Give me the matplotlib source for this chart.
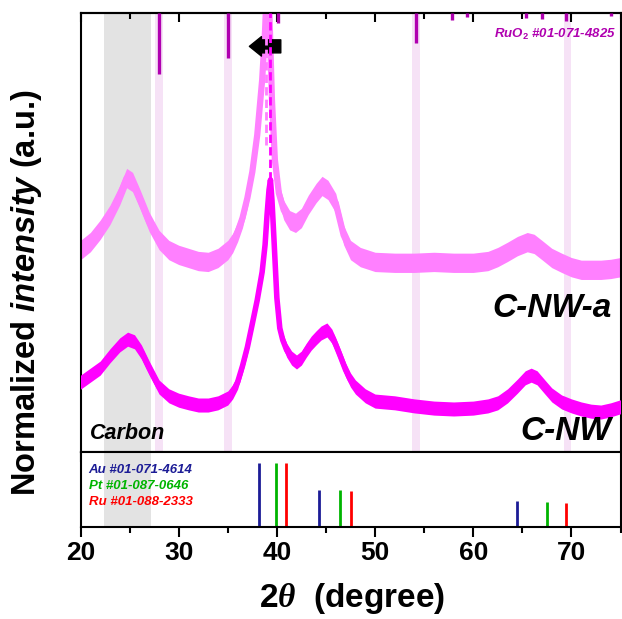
import matplotlib
matplotlib.use("Agg")
import matplotlib.pyplot as plt
from matplotlib.ticker import MultipleLocator

plt.rcParams['font.family'] = ['Liberation Sans', 'DejaVu Sans']
plt.rcParams['font.weight'] = 'bold'
plt.rcParams['mathtext.fontset'] = 'custom'
plt.rcParams['mathtext.rm'] = 'Liberation Sans:bold'
plt.rcParams['mathtext.bf'] = 'Liberation Sans:bold'
plt.rcParams['mathtext.it'] = 'Liberation Sans:italic:bold'
plt.rcParams['mathtext.cal'] = 'Liberation Serif:italic'

# XRD patterns (normalized intensity)
tt_cnw = [20.0, 21.0, 22.0, 23.0, 24.0, 24.8, 25.5, 26.2, 27.0, 28.0, 29.0, 30.0,
          31.0, 32.0, 33.0, 34.0, 35.0, 35.5, 36.0, 36.5, 37.0, 37.5, 38.0, 38.5,
          38.8, 39.0, 39.2, 39.35, 39.5, 39.7, 40.0, 40.3, 40.6, 41.0, 41.5, 42.0,
          42.5, 43.0, 43.5, 44.0, 44.5, 45.1, 45.6, 46.0, 46.5, 47.0, 47.5, 48.0,
          49.0, 50.0, 52.0, 54.0, 56.0, 58.0, 60.0, 61.5, 62.5, 63.5, 64.5, 65.3,
          65.9, 66.5, 67.3, 68.0, 69.0, 70.0, 71.0, 72.0, 73.0, 74.0, 75.0]
int_cnw = [15.9, 17.5, 19.1, 21.9, 24.4, 25.7, 25.1, 22.8, 19.1, 14.8, 12.8, 11.8,
           11.2, 10.7, 10.7, 11.2, 12.3, 13.7, 15.9, 19.6, 23.9, 29.2, 34.6, 41.0,
           47.2, 54.0, 59.7, 62.0, 57.4, 48.7, 35.1, 28.2, 25.5, 23.2, 21.4, 20.5,
           21.4, 23.2, 24.8, 26.0, 27.1, 27.8, 26.4, 24.4, 21.6, 18.7, 16.4, 14.8,
           12.8, 11.6, 11.2, 10.5, 10.0, 9.8, 10.0, 10.5, 11.2, 12.8, 15.0, 16.9,
           17.5, 16.9, 14.8, 13.0, 11.4, 10.5, 9.8, 9.3, 9.1, 9.6, 10.3]

tt_cnwa = [20.0, 21.0, 22.0, 23.0, 24.0, 24.7, 25.3, 26.0, 27.0, 28.0, 29.0, 30.0,
           31.0, 32.0, 33.0, 34.0, 35.0, 35.5, 36.0, 36.5, 37.0, 37.5, 38.0, 38.5,
           38.8, 39.0, 39.2, 39.5, 39.8, 40.2, 40.7, 41.3, 41.9, 42.5, 43.2, 44.0,
           44.6, 45.2, 46.0, 46.8, 47.5, 48.5, 50.0, 52.0, 54.0, 56.0, 58.0, 60.0,
           61.5, 62.5, 63.5, 64.5, 65.5, 66.2, 67.0, 68.0, 69.0, 70.0, 71.0, 72.0,
           73.0, 74.0, 75.0]
int_cnwa = [46.0, 47.8, 50.6, 54.0, 58.5, 62.4, 61.5, 57.9, 52.4, 48.3, 46.0, 44.9,
            44.2, 43.5, 43.3, 44.2, 46.0, 47.6, 50.1, 53.3, 57.9, 63.8, 72.2, 84.7,
            96.1, 107.5, 103.0, 80.2, 66.5, 59.0, 55.1, 52.8, 52.2, 53.3, 56.3, 59.0,
            60.6, 59.7, 56.7, 49.4, 46.0, 44.4, 43.3, 43.1, 43.1, 43.3, 43.1, 43.1,
            43.5, 44.4, 45.6, 46.9, 47.8, 47.4, 46.0, 44.2, 43.1, 42.1, 41.5, 41.5,
            41.5, 41.7, 42.1]

# reference patterns
ruo2_pos = [28.0, 35.0, 40.1, 54.2, 57.8, 59.4, 65.4, 67.0, 69.4, 74.0]
ruo2_int = [100, 74, 16, 49, 11, 7, 8, 10, 13, 5]
ruo2_bands = [28.0, 35.0, 54.2, 69.6]

au_pos = [38.2, 44.3, 64.5]
au_int = [100, 57, 40]
pt_pos = [39.9, 46.4, 67.5]
pt_int = [100, 57, 39]
ru_pos = [40.9, 47.5, 69.4]
ru_int = [100, 56, 38]

carbon_band = (22.36, 27.16)
shift_from, shift_to = 40.4, 37.2
peak_cnw, peak_cnwa = 39.35, 38.9

fig = plt.figure(figsize=(6.22, 6.19), dpi=100)
ax1 = fig.add_axes([80.5 / 622, 1 - 452 / 619, 540 / 622, 439 / 619])
ax2 = fig.add_axes([80.5 / 622, 1 - 527 / 619, 540 / 622, 75 / 619])

for ax in (ax1, ax2):
    ax.axvspan(*carbon_band, color='#e3e3e3', lw=0, zorder=0)
    ax.set_xlim(20, 75)
    ax.set_yticks([])
    for s in ax.spines.values():
        s.set_linewidth(1.5)
    ax.xaxis.set_major_locator(MultipleLocator(10))
    ax.xaxis.set_minor_locator(MultipleLocator(5))

for b in ruo2_bands:
    ax1.axvspan(b - 0.4, b + 0.4, color='#f6e2f6', lw=0, zorder=0)

# noisy patterns drawn as a band around the trace
ax1.fill_between(tt_cnwa, [v - 2.2 for v in int_cnwa], [v + 2.2 for v in int_cnwa],
                 color='#ff80ff', lw=0, zorder=2)
ax1.plot(tt_cnwa, int_cnwa, color='#ff80ff', lw=4.5, zorder=2)
ax1.fill_between(tt_cnw, [v - 1.6 for v in int_cnw], [v + 1.6 for v in int_cnw],
                 color='#ff00ff', lw=0, zorder=3)
ax1.plot(tt_cnw, int_cnw, color='#ff00ff', lw=4, zorder=3)

# RuO2 reference sticks hanging from the top
ax1.vlines(ruo2_pos, [100 - 0.139 * v for v in ruo2_int], 100, color='#b000b0', lw=2.4, zorder=4)

ax1.annotate('', xy=(shift_to, 92.4), xytext=(shift_from, 92.4),
             arrowprops=dict(arrowstyle='simple,head_length=0.62,head_width=1.0,tail_width=0.67',
                             fc='k', ec='k', shrinkA=0, shrinkB=0, mutation_scale=14), zorder=5)
ax1.vlines(peak_cnwa, 70, 96, color='#ff80ff', lw=2, linestyles=(0, (3, 1.5)), zorder=6)
ax1.vlines(peak_cnw, 62, 100, color='#ff00ff', lw=2, linestyles=(0, (3, 1.5)), zorder=6)

ax1.set_ylim(0, 100)
ax1.tick_params(axis='x', which='both', bottom=True, top=False, direction='out',
                labelbottom=False, width=1.5)
ax1.tick_params(axis='x', which='major', length=7)
ax1.tick_params(axis='x', which='minor', length=4)
sec = ax1.secondary_xaxis('top')
sec.xaxis.set_major_locator(MultipleLocator(10))
sec.xaxis.set_minor_locator(MultipleLocator(5))
sec.tick_params(axis='x', which='both', direction='in', labeltop=False, width=1.5)
sec.tick_params(axis='x', which='major', length=6.5)
sec.tick_params(axis='x', which='minor', length=4)
sec.spines['top'].set_linewidth(1.5)

ax1.text(0.991, 0.952, r'RuO$_{\mathit{2}}$ #01-071-4825', transform=ax1.transAxes,
         ha='right', va='center', color='#b000b0', fontsize=9.5, fontweight='bold', style='italic')
ax1.text(0.983, 0.328, 'C-NW-a', transform=ax1.transAxes, ha='right', va='center',
         fontsize=24, fontweight='bold', style='italic')
ax1.text(0.983, 0.046, 'C-NW', transform=ax1.transAxes, ha='right', va='center',
         fontsize=24, fontweight='bold', style='italic')
ax1.text(0.017, 0.043, 'Carbon', transform=ax1.transAxes, ha='left', va='center',
         fontsize=15.5, fontweight='bold', style='italic')

# bottom panel: standard cards
ax2.vlines(au_pos, 0, au_int, color='#1c1c96', lw=2)
ax2.vlines(pt_pos, 0, pt_int, color='#00b400', lw=2)
ax2.vlines(ru_pos, 0, ru_int, color='#ff0000', lw=2)
ax2.set_ylim(0, 117)
ax2.tick_params(axis='x', which='both', direction='out', width=1.5, labelsize=19, pad=3)
ax2.tick_params(axis='x', which='major', length=7)
ax2.tick_params(axis='x', which='minor', length=4)
for lbl, col, yy in [('Au #01-071-4614', '#1c1c96', 0.76),
                     ('Pt #01-087-0646', '#00b400', 0.547),
                     ('Ru #01-088-2333', '#ff0000', 0.333)]:
    ax2.text(0.015, yy, lbl, transform=ax2.transAxes, color=col, fontsize=9.5,
             fontweight='bold', style='italic', va='center', ha='left')

fig.text(352 / 622, 1 - 598 / 619, r'$\mathit{2}\mathcal{\theta}$  (degree)',
         ha='center', va='center', fontsize=24, fontweight='bold')
fig.text(27 / 622, 1 - 293 / 619, r'Normalized $\mathit{intensity}$ (a.u.)',
         ha='center', va='center', rotation=90, fontsize=23.5, fontweight='bold')

fig.savefig('out.png', dpi=100)
